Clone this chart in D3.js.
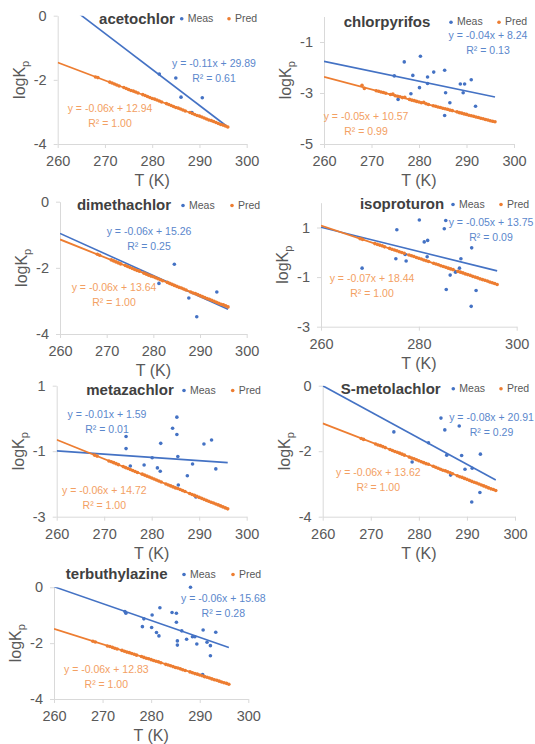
<!DOCTYPE html>
<html lang="en">
<head>
  <meta charset="UTF-8" />
  <title>logKp vs T</title>
  <style>
  body {
    margin: 0;
    background: #fff;
    font-family: "Liberation Sans", Arial, sans-serif;
  }
  svg {
    display: block;
  }
  </style>
  <script src="https://d3js.org/d3.v7.min.js"></script>
</head>
<body>
  <div id="chart"></div>
  <script>
    // Compounds, one panel each
    const compounds = ["acetochlor", "chlorpyrifos", "dimethachlor", "isoproturon", "metazachlor", "S-metolachlor", "terbuthylazine"];

    // Temperatures of the predicted points (same for every compound)
    const predT = [268, 268.5, 271, 271.5, 272, 272.5, 273, 274, 274.5, 275, 275.5, 276, 276.5, 277, 278, 278.5, 279, 279.5, 280, 280.5, 281, 281.5, 282, 283, 283.5, 284, 284.5, 285, 285.5, 286, 286.5, 287, 288, 288.5, 289, 289.5, 290, 290.5, 291, 291.5, 292, 292.5, 293, 293.5, 294, 294.5, 295, 295.5, 296];

    // Predicted logKp
    const acetochlorPred = [-1.91, -1.93, -2.07, -2.10, -2.13, -2.16, -2.19, -2.24, -2.27, -2.30, -2.33, -2.35, -2.38, -2.41, -2.46, -2.49, -2.52, -2.55, -2.58, -2.60, -2.63, -2.66, -2.69, -2.74, -2.77, -2.80, -2.83, -2.86, -2.88, -2.91, -2.94, -2.97, -3.02, -3.05, -3.08, -3.11, -3.13, -3.16, -3.19, -3.22, -3.25, -3.27, -3.30, -3.33, -3.36, -3.39, -3.41, -3.44, -3.47];
    const chlorpyrifosPred = [-2.70, -2.82, -2.91, -2.93, -2.96, -2.98, -3.01, -3.06, -3.04, -3.11, -3.13, -3.15, -3.18, -3.17, -3.25, -3.28, -3.30, -3.33, -3.35, -3.38, -3.36, -3.42, -3.45, -3.50, -3.52, -3.55, -3.57, -3.60, -3.62, -3.64, -3.67, -3.69, -3.74, -3.77, -3.79, -3.82, -3.84, -3.87, -3.89, -3.91, -3.94, -3.96, -3.99, -4.01, -4.04, -4.06, -4.09, -4.11, -4.13];
    const dimethachlorPred = [-1.59, -1.62, -1.76, -1.79, -1.82, -1.85, -1.88, -1.93, -1.96, -1.99, -2.02, -2.05, -2.08, -2.10, -2.16, -2.19, -2.22, -2.25, -2.27, -2.30, -2.33, -2.36, -2.39, -2.44, -2.47, -2.50, -2.53, -2.56, -2.59, -2.61, -2.64, -2.67, -2.73, -2.76, -2.78, -2.81, -2.84, -2.87, -2.90, -2.93, -2.95, -2.98, -3.01, -3.04, -3.07, -3.10, -3.12, -3.15, -3.18];
    const isoproturonPred = [0.55, 0.52, 0.35, 0.32, 0.29, 0.26, 0.22, 0.16, 0.12, 0.09, 0.06, 0.02, -0.01, -0.04, -0.11, -0.14, -0.17, -0.21, -0.24, -0.27, -0.31, -0.34, -0.37, -0.44, -0.47, -0.50, -0.54, -0.57, -0.60, -0.64, -0.67, -0.70, -0.77, -0.80, -0.83, -0.87, -0.90, -0.93, -0.97, -1.00, -1.03, -1.07, -1.10, -1.13, -1.16, -1.20, -1.23, -1.26, -1.30];
    const metazachlorPred = [-1.12, -1.15, -1.30, -1.32, -1.35, -1.38, -1.41, -1.47, -1.50, -1.53, -1.56, -1.59, -1.62, -1.65, -1.70, -1.73, -1.76, -1.79, -1.82, -1.85, -1.88, -1.91, -1.94, -2.00, -2.03, -2.06, -2.09, -2.12, -2.14, -2.17, -2.20, -2.23, -2.29, -2.32, -2.35, -2.38, -2.41, -2.44, -2.47, -2.50, -2.53, -2.56, -2.58, -2.61, -2.64, -2.67, -2.70, -2.73, -2.76];
    const metolachlorPred = [-1.61, -1.64, -1.78, -1.81, -1.83, -1.86, -1.89, -1.95, -1.98, -2.01, -2.03, -2.06, -2.09, -2.12, -2.18, -2.21, -2.23, -2.26, -2.29, -2.32, -2.35, -2.38, -2.40, -2.46, -2.49, -2.52, -2.55, -2.58, -2.60, -2.63, -2.66, -2.69, -2.75, -2.78, -2.80, -2.83, -2.86, -2.89, -2.92, -2.95, -2.97, -3.00, -3.03, -3.06, -3.09, -3.12, -3.15, -3.17, -3.20];
    const terbuthylazinePred = [-1.93, -1.96, -2.10, -2.12, -2.15, -2.18, -2.21, -2.26, -2.29, -2.32, -2.34, -2.37, -2.40, -2.43, -2.48, -2.51, -2.54, -2.56, -2.59, -2.62, -2.65, -2.67, -2.70, -2.76, -2.78, -2.81, -2.84, -2.87, -2.89, -2.92, -2.95, -2.98, -3.03, -3.06, -3.09, -3.11, -3.14, -3.17, -3.20, -3.22, -3.25, -3.28, -3.31, -3.33, -3.36, -3.39, -3.42, -3.44, -3.47];

    // Measured points: temperature and logKp
    const acetochlorMeasT = [281.5, 285.0, 286.1, 288.4, 290.6];
    const acetochlorMeas = [-1.82, -1.94, -2.54, -3.02, -2.56];
    const chlorpyrifosMeasT = [274.8, 275.6, 276.9, 278.3, 278.7, 280.3, 280.1, 281.8, 281.8, 283.1, 285.4, 285.6, 285.4, 286.5, 288.7, 289.6, 289.3, 291.0, 291.9];
    const chlorpyrifosMeas = [-2.33, -3.25, -1.78, -3.03, -2.31, -1.56, -2.79, -2.37, -2.63, -2.18, -2.11, -2.99, -3.88, -3.38, -2.65, -2.65, -2.99, -2.48, -3.52];
    const dimethachlorMeasT = [281.2, 284.5, 287.6, 289.3, 293.6];
    const dimethachlorMeas = [-2.47, -1.89, -2.91, -3.48, -2.73];
    const isoproturonMeasT = [268.4, 275.5, 275.3, 277.2, 277.4, 280.1, 281.1, 281.8, 281.7, 285.2, 285.5, 285.6, 286.4, 287.5, 288.3, 288.6, 290.8, 290.7, 291.7];
    const isoproturonMeas = [-0.64, 0.91, -0.26, -0.09, -0.35, 1.30, 0.42, 0.48, -0.18, 0.95, 1.28, -1.50, -0.92, -0.80, -0.64, -0.26, 0.18, -2.18, -1.54];
    const metazachlorMeasT = [274.6, 274.6, 275.5, 278.4, 280.1, 281.2, 281.8, 281.9, 284.4, 285.3, 285.3, 285.5, 285.6, 287.5, 288.6, 289.3, 291.0, 292.6, 293.5];
    const metazachlorMeas = [-0.55, -0.92, -1.45, -1.42, -1.20, -1.51, -1.61, -0.76, -0.30, 0.04, -0.49, -1.16, -2.03, -1.75, -1.39, -2.40, -0.78, -0.66, -1.54];
    const metolachlorMeasT = [274.8, 278.6, 282.0, 284.6, 285.4, 285.8, 286.6, 288.4, 288.9, 289.6, 291.1, 291.0, 292.7, 292.8];
    const metolachlorMeas = [-1.41, -2.33, -1.74, -0.99, -1.35, -2.12, -2.73, -1.23, -2.13, -2.55, -2.52, -3.55, -3.26, -2.09];
    const terbuthylazineMeasT = [274.6, 274.8, 278.5, 278.2, 280.2, 280.1, 281.1, 281.6, 281.8, 284.3, 285.2, 285.2, 285.4, 285.4, 286.3, 287.3, 288.1, 288.5, 289.0, 289.4, 290.6, 290.7, 291.5, 292.2, 292.2, 293.3];
    const terbuthylazineMeas = [-0.87, -0.93, -1.13, -1.41, -0.99, -1.44, -1.62, -1.74, -0.73, -0.90, -0.93, -1.25, -1.92, -2.07, -1.56, -1.86, 0.00, -1.77, -1.77, -2.03, -3.12, -1.53, -1.97, -2.09, -2.45, -1.61];

    // Trend line ends (logKp at T = 260 and T = 296)
    const trendT = [260, 296];
    const measTrendEnds = [[0.57, -3.47], [-1.76, -3.16], [-0.96, -3.25], [1.01, -0.75], [-0.99, -1.35], [0.0, -2.88], [0.02, -2.16]];
    const predTrendEnds = [[-1.46, -3.47], [-2.37, -4.14], [-1.14, -3.18], [1.08, -1.30], [-0.65, -2.76], [-1.15, -3.20], [-1.49, -3.47]];

    // Trend line labels
    const measEquations = ["y = -0.11x + 29.89", "y = -0.04x + 8.24", "y = -0.06x + 15.26", "y = -0.05x + 13.75", "y = -0.01x + 1.59", "y = -0.08x + 20.91", "y = -0.06x + 15.68"];
    const measR2 = ["R² = 0.61", "R² = 0.13", "R² = 0.25", "R² = 0.09", "R² = 0.01", "R² = 0.29", "R² = 0.28"];
    const predEquations = ["y = -0.06x + 12.94", "y = -0.05x + 10.57", "y = -0.06x + 13.64", "y = -0.07x + 18.44", "y = -0.06x + 14.72", "y = -0.06x + 13.62", "y = -0.06x + 12.83"];
    const predR2 = ["R² = 1.00", "R² = 0.99", "R² = 1.00", "R² = 1.00", "R² = 1.00", "R² = 1.00", "R² = 1.00"];

    // Axes
    const xDomain = [260, 300];
    const xTicks = [[260, 270, 280, 290, 300], [260, 270, 280, 290, 300], [260, 270, 280, 290, 300], [260, 280, 300], [260, 270, 280, 290, 300], [260, 270, 280, 290, 300], [260, 270, 280, 290, 300]];
    const yDomains = [[-4, 0], [-5, 0], [-4, 0], [-3, 2], [-3, 1], [-4, 0], [-4, 0]];
    const yTicks = [[-4, -2, 0], [-5, -3, -1], [-4, -2, 0], [-3, -1, 1], [-3, -1, 1], [-4, -2, 0], [-4, -2, 0]];

    const predSeries = [acetochlorPred, chlorpyrifosPred, dimethachlorPred, isoproturonPred, metazachlorPred, metolachlorPred, terbuthylazinePred];
    const measTSeries = [acetochlorMeasT, chlorpyrifosMeasT, dimethachlorMeasT, isoproturonMeasT, metazachlorMeasT, metolachlorMeasT, terbuthylazineMeasT];
    const measSeries = [acetochlorMeas, chlorpyrifosMeas, dimethachlorMeas, isoproturonMeas, metazachlorMeas, metolachlorMeas, terbuthylazineMeas];

    // Panel placement on the page (plot box, title, legend and label spots)
    const layout = [
      { left: 57.7, right: 246.7, top: 15.7, bottom: 144, title: [137, 18.3], legend: [181.7, 229], measEq: [214, 67], predEq: [110, 112] },
      { left: 324, right: 514, top: 16.5, bottom: 144, title: [387, 21.7], legend: [451, 499], measEq: [488, 39], predEq: [366, 120] },
      { left: 60, right: 246.7, top: 201.7, bottom: 334, title: [124, 205], legend: [183, 232], measEq: [149, 235], predEq: [114, 291] },
      { left: 321, right: 516.7, top: 202.7, bottom: 326.7, title: [402, 204], legend: [453, 501], measEq: [491, 226], predEq: [372, 282] },
      { left: 56.7, right: 246.7, top: 385.7, bottom: 516.7, title: [130, 390], legend: [184, 232.7], measEq: [107, 418], predEq: [104.3, 494] },
      { left: 322.7, right: 515, top: 385.7, bottom: 516.7, title: [390.7, 388.3], legend: [453.3, 501], measEq: [491.5, 421], predEq: [378.3, 476] },
      { left: 54, right: 248.3, top: 587.3, bottom: 699, title: [116.7, 574], legend: [184, 233], measEq: [223.3, 602], predEq: [106.3, 673] }
    ];

    const measColor = "#4472C4";
    const predColor = "#ED7D31";
    const measTextColor = "#5b87cc";
    const predTextColor = "#f3a063";
    const axisColor = "#d9d9d9";
    const labelColor = "#595959";

    const svg = d3.select("#chart").append("svg")
      .attr("width", 535)
      .attr("height", 744);

    compounds.forEach((name, i) => {
      const L = layout[i];
      const g = svg.append("g");

      const x = d3.scaleLinear().domain(xDomain).range([L.left, L.right]);
      const y = d3.scaleLinear().domain(yDomains[i]).range([L.bottom, L.top]);

      // clip for trend lines
      g.append("clipPath").attr("id", "clip" + i)
        .append("rect")
        .attr("x", L.left).attr("y", L.top)
        .attr("width", L.right - L.left).attr("height", L.bottom - L.top);

      // x axis
      const xAxis = g.append("g")
        .attr("transform", `translate(0,${L.bottom})`)
        .call(d3.axisBottom(x).tickValues(xTicks[i]).tickSize(4).tickSizeOuter(0).tickPadding(8).tickFormat(d => String(d)));
      // y axis (plain hyphen for negatives, like the original)
      const yAxis = g.append("g")
        .attr("transform", `translate(${L.left},0)`)
        .call(d3.axisLeft(y).tickValues(yTicks[i]).tickSize(4).tickSizeOuter(0).tickPadding(7).tickFormat(d => String(d)));

      [xAxis, yAxis].forEach(a => {
        a.select(".domain").attr("stroke", axisColor).attr("stroke-width", 1);
        a.selectAll(".tick line").attr("stroke", axisColor);
        a.selectAll(".tick text")
          .attr("fill", labelColor)
          .style("font-size", "14.5px")
          .style("font-family", '"Liberation Sans", Arial, sans-serif');
      });

      // axis titles
      g.append("text")
        .attr("x", (L.left + L.right) / 2)
        .attr("y", L.bottom + 42)
        .attr("text-anchor", "middle")
        .attr("fill", labelColor)
        .style("font-size", "16px")
        .text("T (K)");

      const yt = g.append("text")
        .attr("transform", `translate(${L.left - 33},${(L.top + L.bottom) / 2}) rotate(-90)`)
        .attr("text-anchor", "middle")
        .attr("fill", labelColor)
        .style("font-size", "16px");
      yt.append("tspan").text("logK");
      yt.append("tspan").attr("dy", 4).style("font-size", "11px").text("p");

      // trend lines
      const line = d3.line().x(d => x(d[0])).y(d => y(d[1]));
      g.append("path")
        .datum(trendT.map((t, k) => [t, measTrendEnds[i][k]]))
        .attr("clip-path", `url(#clip${i})`)
        .attr("d", line)
        .attr("fill", "none")
        .attr("stroke", measColor)
        .attr("stroke-width", 1.6);
      g.append("path")
        .datum(trendT.map((t, k) => [t, predTrendEnds[i][k]]))
        .attr("clip-path", `url(#clip${i})`)
        .attr("d", line)
        .attr("fill", "none")
        .attr("stroke", predColor)
        .attr("stroke-width", 1.8);

      // points
      g.selectAll(".meas")
        .data(measTSeries[i].map((t, k) => [t, measSeries[i][k]]))
        .enter().append("circle")
        .attr("cx", d => x(d[0]))
        .attr("cy", d => y(d[1]))
        .attr("r", 1.8)
        .attr("fill", measColor);
      g.selectAll(".pred")
        .data(predT.map((t, k) => [t, predSeries[i][k]]))
        .enter().append("circle")
        .attr("cx", d => x(d[0]))
        .attr("cy", d => y(d[1]))
        .attr("r", 1.8)
        .attr("fill", predColor);

      // title
      g.append("text")
        .attr("x", L.title[0])
        .attr("y", L.title[1])
        .attr("dy", "0.35em")
        .attr("text-anchor", "middle")
        .attr("fill", "#404040")
        .style("font-size", "15px")
        .style("font-weight", "bold")
        .text(name);

      // legend
      [["Meas", measColor], ["Pred", predColor]].forEach((item, k) => {
        g.append("circle")
          .attr("cx", L.legend[k])
          .attr("cy", L.title[1] + 0.5)
          .attr("r", 1.8)
          .attr("fill", item[1]);
        g.append("text")
          .attr("x", L.legend[k] + 6)
          .attr("y", L.title[1])
          .attr("dy", "0.35em")
          .attr("fill", labelColor)
          .style("font-size", "10.5px")
          .text(item[0]);
      });

      // equation labels
      [[L.measEq, measEquations[i], measR2[i], measTextColor], [L.predEq, predEquations[i], predR2[i], predTextColor]].forEach(e => {
        g.append("text")
          .attr("x", e[0][0]).attr("y", e[0][1])
          .attr("text-anchor", "middle")
          .attr("fill", e[3])
          .style("font-size", "10.5px")
          .text(e[1]);
        g.append("text")
          .attr("x", e[0][0]).attr("y", e[0][1] + 14.5)
          .attr("text-anchor", "middle")
          .attr("fill", e[3])
          .style("font-size", "10.5px")
          .text(e[2]);
      });
    });
  </script>
</body>
</html>
